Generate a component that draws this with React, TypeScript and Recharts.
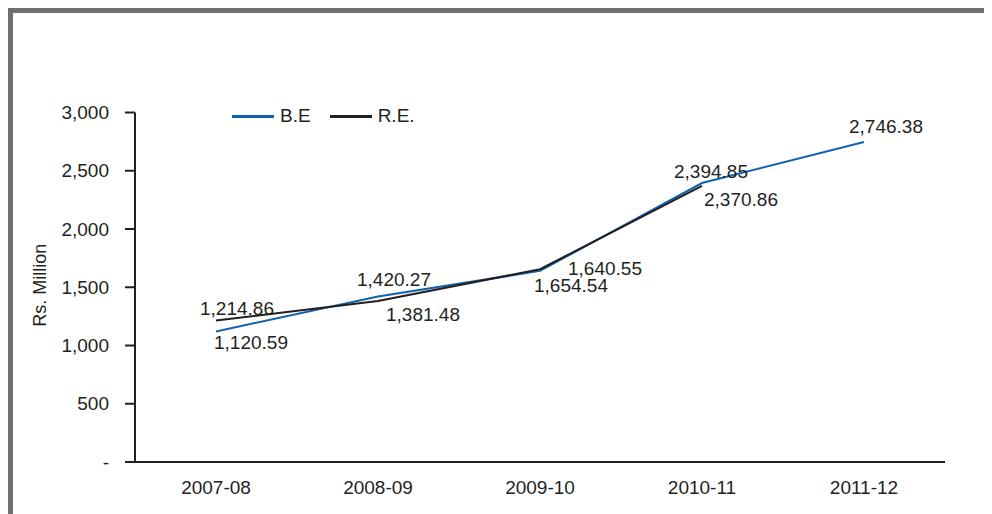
import { LineChart, Line, XAxis, YAxis, Legend } from 'recharts'

const years = ['2007-08', '2008-09', '2009-10', '2010-11', '2011-12']
const budgetEstimate = [1120.59, 1420.27, 1640.55, 2394.85, 2746.38]
const revisedEstimate = [1214.86, 1381.48, 1654.54, 2370.86, null]
const yTicks = [0, 500, 1000, 1500, 2000, 2500, 3000]

// label placement relative to each point [dx, dy]
const beOffsets = [[35, 11], [16, -17], [65, -3], [9, -12], [22, -16]]
const reOffsets = [[21, -12], [45, 13], [31, 16], [39, 14]]

const FONT = '"Liberation Sans", Arial, sans-serif'
const INK = '#231f20'
const BLUE = '#0f62b0'

const data = years.map((year, i) => ({
  year,
  be: budgetEstimate[i],
  re: revisedEstimate[i],
}))

const fmt = (v: number) =>
  v.toLocaleString('en-US', { minimumFractionDigits: 2, maximumFractionDigits: 2 })

const valueLabel = (offsets: number[][]) => (props: any) => {
  const { x, y, value, index } = props
  if (value == null || !offsets[index]) return null
  const [dx, dy] = offsets[index]
  return (
    <text
      key={index}
      x={x + dx}
      y={y + dy}
      dy="0.35em"
      textAnchor="middle"
      fontSize={19}
      fontFamily={FONT}
      fill={INK}
    >
      {fmt(value)}
    </text>
  )
}

const yLabel = (props: any) => {
  const vb = props.viewBox ?? { x: 0, y: 104.5, width: 127, height: 349.5 }
  const cx = vb.x + 32
  const cy = vb.y + vb.height / 2 - 2
  return (
    <text
      x={cx}
      y={cy}
      transform={`rotate(-90 ${cx} ${cy})`}
      textAnchor="middle"
      dominantBaseline="central"
      fontSize={18}
      fontFamily={FONT}
      fill={INK}
    >
      Rs. Million
    </text>
  )
}

const legendItems = [
  { label: 'B.E', color: BLUE },
  { label: 'R.E.', color: INK },
]

const renderLegend = () => (
  <div style={{ display: 'flex', alignItems: 'center', fontFamily: FONT, fontSize: 19, color: INK }}>
    {legendItems.map((it, i) => (
      <div key={it.label} style={{ display: 'flex', alignItems: 'center', marginRight: i === 0 ? 19 : 0 }}>
        <span style={{ display: 'inline-block', width: 42, height: 3, background: it.color, marginRight: 6 }} />
        <span>{it.label}</span>
      </div>
    ))}
  </div>
)

export default function App() {
  return (
    <div style={{ position: 'relative', width: 984, height: 506, fontFamily: FONT }}>
      <div
        style={{
          position: 'absolute',
          left: 0,
          top: 0,
          width: 979,
          height: 501,
          borderTop: '5px solid #6e6f72',
          borderLeft: '5px solid #6e6f72',
        }}
      />
      <LineChart
        width={984}
        height={506}
        data={data}
        margin={{ top: 104.5, right: 47, bottom: 12, left: 0 }}
        style={{ position: 'absolute', left: 0, top: 0 }}
      >
        <XAxis
          dataKey="year"
          height={40}
          padding={{ left: 81, right: 81 }}
          tickLine={false}
          tickSize={0}
          tickMargin={19}
          axisLine={{ stroke: INK, strokeWidth: 2 }}
          tick={{ fontSize: 19, fill: INK, fontFamily: FONT }}
        />
        <YAxis
          width={127}
          domain={[0, 3000]}
          ticks={yTicks}
          interval={0}
          tickSize={10}
          tickMargin={16}
          tickFormatter={(v: number) => (v === 0 ? '-' : v.toLocaleString('en-US'))}
          axisLine={{ stroke: INK, strokeWidth: 2 }}
          tickLine={{ stroke: INK, strokeWidth: 2 }}
          tick={{ fontSize: 19, fill: INK, fontFamily: FONT }}
          label={yLabel}
        />
        <Legend
          layout="horizontal"
          verticalAlign="middle"
          align="center"
          content={renderLegend}
          wrapperStyle={{ left: 224, top: 97, width: 'auto' }}
        />
        <Line
          name="B.E"
          dataKey="be"
          stroke={BLUE}
          strokeWidth={2}
          dot={false}
          isAnimationActive={false}
          label={valueLabel(beOffsets)}
        />
        <Line
          name="R.E."
          dataKey="re"
          stroke={INK}
          strokeWidth={2}
          dot={false}
          isAnimationActive={false}
          label={valueLabel(reOffsets)}
        />
      </LineChart>
    </div>
  )
}
